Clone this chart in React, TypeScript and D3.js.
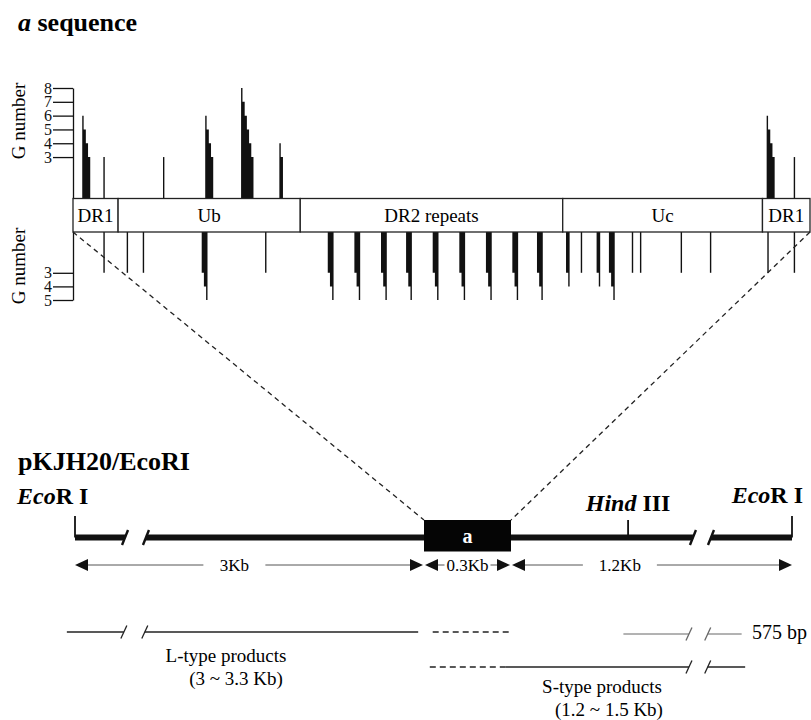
import * as d3 from 'd3';
import { useEffect, useRef } from 'react';

// a sequence: regions and G-run positions (position in bp from the left end)
const regionNames = ['DR1', 'Ub', 'DR2 repeats', 'Uc', 'DR1'];
const regionEdges = [0, 20.5, 103.3, 222.6, 313.4, 335];

const upperPos = [4.2, 13.8, 40.9, 60.1, 76.4, 93.8, 315.3, 327.6];
const upperG = [6, 3, 3, 6, 8, 4, 6, 3];

const lowerPos = [
    13.8, 24.4, 31.7, 58.5, 87.3, 115.8, 127.9, 140, 151.4, 163.5, 175.6, 187.7, 199.7, 210.9, 224.1, 230.8, 238,
    243.6, 254, 257.7, 276.2, 289.5, 315.6, 327.6,
];
const lowerG = [3, 3, 3, 5, 3, 5, 5, 5, 5, 5, 5, 5, 5, 5, 4, 3, 4, 5, 3, 3, 3, 3, 3, 3];

const upperTicks = [3, 4, 5, 6, 7, 8];
const lowerTicks = [3, 4, 5];

// pKJH20 / EcoRI map, in Kb
const segStart = [0, 3, 3.3];
const segEnd = [3, 3.3, 4.5];
const segLabel = ['3Kb', '0.3Kb', '1.2Kb'];
const segLabelKb = [1.37, 3.15, 3.765];
const siteKb = [0, 3.8, 4.5];
const mapBreaks = [
    [0.43, 0.61],
    [4.077, 4.154],
];

// PCR products (Kb)
const lSolid = [-0.07, 2.95];
const lDashed = [3.03, 3.3];
const sDashed = [3.02, 3.28];
const sSolid = [3.28, 4.3];
const bp575 = [3.78, 4.285];
const productBreakL = [0.42, 0.6];
const productBreakR = [4.06, 4.14];

const serif = '"Liberation Serif", "Times New Roman", serif';

const App = () => {
    const svgRef = useRef(null);

    useEffect(() => {
        const width = 811;
        const height = 720;
        const svg = d3.select(svgRef.current);
        svg.selectAll('*').remove();
        svg.attr('width', width).attr('height', height).style('font-family', serif);

        const x = d3.scaleLinear().domain([0, 335]).range([73, 810]);
        const yTop = d3.scaleLinear().domain([0, 8]).range([198.5, 88]);
        const yBot = d3.scaleLinear().domain([0, 5]).range([232, 300]);
        const step = x(1) - x(0);
        const lw = 1.4;

        // title
        const t1 = svg.append('text').attr('x', 18).attr('y', 31).attr('font-size', 26).attr('font-weight', 'bold');
        t1.append('tspan').attr('font-style', 'italic').text('a');
        t1.append('tspan').text(' sequence');

        // upper spikes (staircase, tallest on the left)
        const line = d3.line();
        const upperStairs = (p, g) => {
            const x0 = x(p);
            const base = yTop(0);
            const pts = [
                [x0, base],
                [x0, yTop(g)],
            ];
            for (let v = g; v > 3; v--) {
                const xr = x0 + lw + (g - v) * step;
                pts.push([xr, yTop(v)], [xr, yTop(v - 1)]);
            }
            const x3 = x0 + lw + (g - 3) * step;
            pts.push([x3, yTop(3)], [x3, base]);
            return line(pts) + 'Z';
        };
        // lower spikes (deepest on the right)
        const lowerStairs = (p, g) => {
            const x0 = x(p);
            const base = yBot(0);
            const xr = x0 + lw + (g - 3) * step;
            const pts = [
                [x0, base],
                [x0, yBot(3)],
            ];
            for (let v = 4; v <= g; v++) {
                const xl = x0 + (v - 3) * step;
                pts.push([xl, yBot(v - 1)], [xl, yBot(v)]);
            }
            pts.push([xr, yBot(g)], [xr, base]);
            return line(pts) + 'Z';
        };

        svg.append('g')
            .selectAll('path')
            .data(upperPos.map((p, i) => ({ p, g: upperG[i] })))
            .enter()
            .append('path')
            .attr('d', (d) => upperStairs(d.p, d.g))
            .attr('fill', '#111');

        svg.append('g')
            .selectAll('path')
            .data(lowerPos.map((p, i) => ({ p, g: lowerG[i] })))
            .enter()
            .append('path')
            .attr('d', (d) => lowerStairs(d.p, d.g))
            .attr('fill', '#111');

        // axes
        const styleAxis = (g) => {
            g.selectAll('path, line').attr('stroke', '#111').attr('stroke-width', 1.3);
            g.selectAll('text')
                .attr('fill', '#111')
                .style('font-family', serif)
                .style('font-size', '16px');
        };
        svg.append('g')
            .attr('transform', `translate(${x(0)},0)`)
            .call(
                d3
                    .axisLeft(yTop)
                    .tickValues(upperTicks)
                    .tickFormat(d3.format('d'))
                    .tickSize(20)
                    .tickSizeOuter(0)
                    .tickPadding(1)
            )
            .call(styleAxis);
        svg.append('g')
            .attr('transform', `translate(${x(0)},0)`)
            .call(
                d3
                    .axisLeft(yBot)
                    .tickValues(lowerTicks)
                    .tickFormat(d3.format('d'))
                    .tickSize(20)
                    .tickSizeOuter(0)
                    .tickPadding(1)
            )
            .call(styleAxis);

        svg.append('text')
            .attr('transform', 'translate(25,121) rotate(-90)')
            .attr('text-anchor', 'middle')
            .attr('font-size', 19)
            .text('G number');
        svg.append('text')
            .attr('transform', 'translate(25,266) rotate(-90)')
            .attr('text-anchor', 'middle')
            .attr('font-size', 19)
            .text('G number');

        // region boxes
        const regions = regionNames.map((name, i) => ({ name, a: regionEdges[i], b: regionEdges[i + 1] }));
        const rg = svg.append('g');
        rg.selectAll('rect')
            .data(regions)
            .enter()
            .append('rect')
            .attr('x', (d) => x(d.a))
            .attr('y', yTop(0))
            .attr('width', (d) => x(d.b) - x(d.a))
            .attr('height', yBot(0) - yTop(0))
            .attr('fill', 'white')
            .attr('stroke', '#222')
            .attr('stroke-width', 1.3);
        rg.selectAll('text')
            .data(regions)
            .enter()
            .append('text')
            .attr('x', (d) => (x(d.a) + x(d.b)) / 2)
            .attr('y', 221.5)
            .attr('text-anchor', 'middle')
            .attr('font-size', 19)
            .text((d) => d.name);

        // ---- plasmid map ----
        const mx = d3.scaleLinear().domain([0, 3, 3.3, 4.5]).range([75, 424, 511, 792]);
        const mapY = 537.5;

        svg.append('text')
            .attr('x', 18)
            .attr('y', 470)
            .attr('font-size', 26)
            .attr('font-weight', 'bold')
            .text('pKJH20/EcoRI');

        // zoom lines
        const dash = svg.append('g').attr('stroke', '#222').attr('stroke-width', 1.3).attr('stroke-dasharray', '5,4');
        dash.append('line').attr('x1', x(0)).attr('y1', yBot(0)).attr('x2', mx(3)).attr('y2', 520);
        dash.append('line').attr('x1', x(335)).attr('y1', yBot(0)).attr('x2', mx(3.3)).attr('y2', 520);

        const slash = (g, cx, cy, h, sw, color) => {
            g.append('line')
                .attr('x1', cx - 3)
                .attr('y1', cy + h / 2)
                .attr('x2', cx + 3)
                .attr('y2', cy - h / 2)
                .attr('stroke', color)
                .attr('stroke-width', sw);
        };

        // broken line: solid from a to b, with "//" breaks
        const brokenLine = (g, a, b, y, breaks, sw, color, slashH) => {
            let cur = a;
            breaks.forEach(([p, q]) => {
                if (p > cur && p < b) {
                    g.append('line').attr('x1', mx(cur)).attr('x2', mx(p)).attr('y1', y).attr('y2', y)
                        .attr('stroke', color).attr('stroke-width', sw);
                    slash(g, mx(p), y, slashH, Math.max(1.3, sw / 2.5), color);
                    slash(g, mx(q), y, slashH, Math.max(1.3, sw / 2.5), color);
                    cur = q;
                }
            });
            g.append('line').attr('x1', mx(cur)).attr('x2', mx(b)).attr('y1', y).attr('y2', y)
                .attr('stroke', color).attr('stroke-width', sw);
        };

        const mg = svg.append('g');
        brokenLine(mg, 0, 4.5, mapY, mapBreaks, 6, '#111', 15);

        // restriction sites
        mg.selectAll('line.site')
            .data(siteKb)
            .enter()
            .append('line')
            .attr('class', 'site')
            .attr('x1', (d) => mx(d))
            .attr('x2', (d) => mx(d))
            .attr('y1', (d, i) => (i === 1 ? 520 : 516))
            .attr('y2', mapY)
            .attr('stroke', '#111')
            .attr('stroke-width', 1.8);

        const siteLabel = (xPos, y, anchor, italic, rest) => {
            const t = svg.append('text').attr('x', xPos).attr('y', y).attr('text-anchor', anchor)
                .attr('font-size', 24).attr('font-weight', 'bold');
            t.append('tspan').attr('font-style', 'italic').text(italic);
            t.append('tspan').text(rest);
        };
        siteLabel(17, 504, 'start', 'Eco', 'R I');
        siteLabel(mx(siteKb[1]), 511, 'middle', 'Hind', ' III');
        siteLabel(803, 503, 'end', 'Eco', 'R I');

        // a box
        mg.append('rect')
            .attr('x', mx(3))
            .attr('y', 520)
            .attr('width', mx(3.3) - mx(3))
            .attr('height', 31.5)
            .attr('fill', '#050505');
        mg.append('text')
            .attr('x', (mx(3) + mx(3.3)) / 2)
            .attr('y', 543)
            .attr('text-anchor', 'middle')
            .attr('font-size', 20)
            .attr('font-weight', 'bold')
            .attr('fill', 'white')
            .text('a');

        // size arrows
        const arY = 565;
        const gaps = [31, 23, 37];
        const ag = svg.append('g');
        segStart.forEach((s, i) => {
            const a = mx(s) + (i === 0 ? 0 : 1);
            const b = mx(segEnd[i]) - (i === 2 ? 0 : 1);
            const cx = mx(segLabelKb[i]);
            ag.append('line').attr('x1', a + 10).attr('x2', cx - gaps[i]).attr('y1', arY).attr('y2', arY)
                .attr('stroke', '#555').attr('stroke-width', 1);
            ag.append('line').attr('x1', cx + gaps[i]).attr('x2', b - 10).attr('y1', arY).attr('y2', arY)
                .attr('stroke', '#555').attr('stroke-width', 1);
            ag.append('path').attr('d', `M${a},${arY}L${a + 13},${arY - 6}L${a + 13},${arY + 6}Z`).attr('fill', '#111');
            ag.append('path').attr('d', `M${b},${arY}L${b - 13},${arY - 6}L${b - 13},${arY + 6}Z`).attr('fill', '#111');
            ag.append('text').attr('x', cx).attr('y', arY + 6).attr('text-anchor', 'middle').attr('font-size', 17)
                .text(segLabel[i]);
        });

        // PCR products
        const pg = svg.append('g');
        const lY = 632;
        const sY = 667;
        brokenLine(pg, lSolid[0], lSolid[1], lY, [productBreakL], 1.6, '#222', 13);
        pg.append('line').attr('x1', mx(lDashed[0])).attr('x2', mx(lDashed[1])).attr('y1', lY).attr('y2', lY)
            .attr('stroke', '#222').attr('stroke-width', 1.5).attr('stroke-dasharray', '6,4');
        brokenLine(pg, bp575[0], bp575[1], 634, [productBreakR], 1, '#666', 13);
        pg.append('line').attr('x1', mx(sDashed[0])).attr('x2', mx(sDashed[1])).attr('y1', sY).attr('y2', sY)
            .attr('stroke', '#222').attr('stroke-width', 1.5).attr('stroke-dasharray', '6,4');
        brokenLine(pg, sSolid[0], sSolid[1], sY, [productBreakR], 1.6, '#222', 13);

        const label = (xPos, y, txt) =>
            svg.append('text').attr('x', xPos).attr('y', y).attr('text-anchor', 'middle').attr('font-size', 19).text(txt);
        label(226, 662, 'L-type products');
        label(236, 685, '(3 ~ 3.3 Kb)');
        label(602, 693, 'S-type products');
        label(609, 716, '(1.2 ~ 1.5 Kb)');
        svg.append('text').attr('x', 752).attr('y', 639).attr('font-size', 20).text('575 bp');
    }, []);

    return <svg ref={svgRef} style={{ position: 'absolute', left: 0, top: 0 }} />;
};

export default App;
